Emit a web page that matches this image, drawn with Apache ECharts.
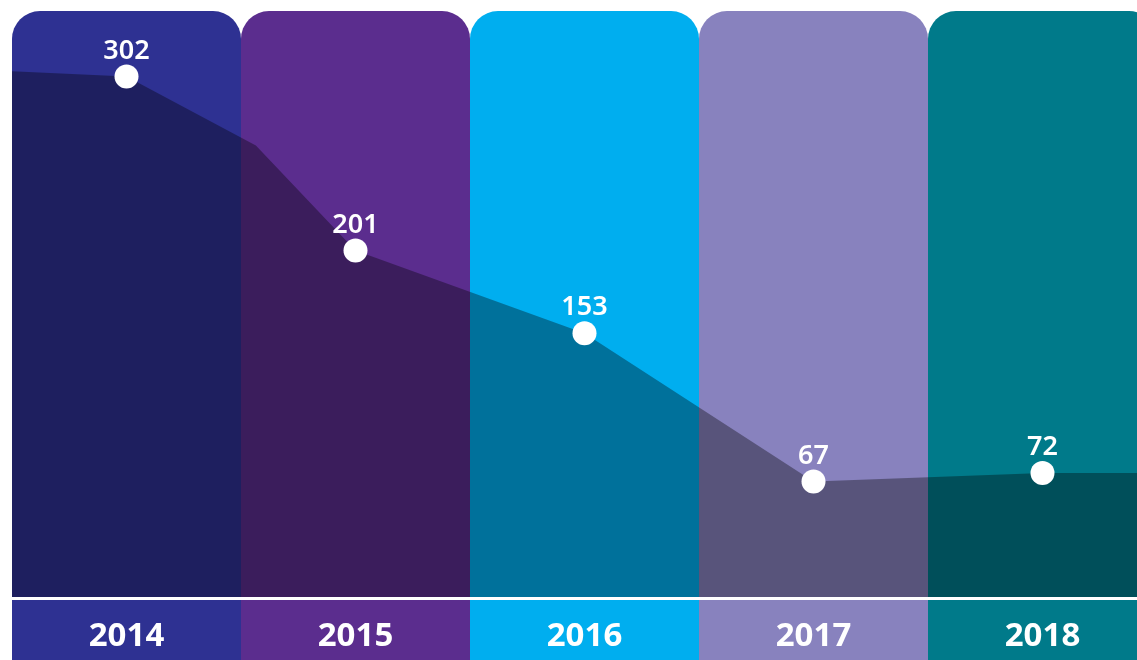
<!DOCTYPE html>
<html>
<head>
<meta charset="utf-8">
<script src="https://cdn.jsdelivr.net/npm/echarts@6/dist/echarts.min.js"></script>
<style>
html, body { margin: 0; padding: 0; background: #fff; }
#chart { width: 1137px; height: 660px; }
</style>
</head>
<body>
<div id="chart"></div>
<script>
var years = ['2014', '2015', '2016', '2017', '2018'];
var counts = [302, 201, 153, 67, 72];
var colColors = ['#2E3192', '#5B2D8E', '#00AEEF', '#8882BE', '#007A8A'];
// shaded band outline, x in category index units
var shadeX = [-0.5, 0, 0.565, 1, 2, 3, 4, 4.5];
var shadeY = [305, 302, 262, 201, 153, 67, 72, 72];
var colMax = 340;

var chart = echarts.init(document.getElementById('chart'));

var font = '"Noto Sans", sans-serif';

var option = {
    backgroundColor: '#fff',
    animation: false,
    grid: [
        { left: 12, top: 11, right: -20, height: 586, outerBoundsMode: 'none', containLabel: false },
        { left: 12, top: 600, right: -20, height: 60, outerBoundsMode: 'none', containLabel: false }
    ],
    xAxis: [
        { type: 'category', gridIndex: 0, data: years, show: false },
        { type: 'value', gridIndex: 0, min: -0.5, max: 4.5, show: false },
        { type: 'category', gridIndex: 1, data: years, show: false }
    ],
    yAxis: [
        { type: 'value', gridIndex: 0, min: 0, max: colMax, show: false },
        { type: 'value', gridIndex: 1, min: 0, max: 1, show: false }
    ],
    series: [
        {
            // coloured columns
            type: 'bar',
            xAxisIndex: 0,
            yAxisIndex: 0,
            barCategoryGap: 0,
            silent: true,
            z: 1,
            data: years.map(function (y, i) {
                return {
                    value: colMax,
                    itemStyle: { color: colColors[i], borderRadius: [28, 28, 0, 0] }
                };
            })
        },
        {
            // dark shade under the line
            type: 'line',
            xAxisIndex: 1,
            yAxisIndex: 0,
            symbol: 'none',
            silent: true,
            z: 2,
            lineStyle: { width: 0 },
            areaStyle: { color: 'rgba(0,0,0,0.35)', opacity: 1 },
            data: shadeX.map(function (x, i) { return [x, shadeY[i]]; })
        },
        {
            type: 'scatter',
            xAxisIndex: 0,
            yAxisIndex: 0,
            symbolSize: 24,
            z: 10,
            itemStyle: { color: '#fff', opacity: 1 },
            label: {
                show: true,
                position: 'top',
                distance: 0,
                color: '#fff',
                fontFamily: font,
                fontSize: 27,
                fontWeight: 600
            },
            data: counts
        },
        {
            // year band at the bottom
            type: 'bar',
            xAxisIndex: 2,
            yAxisIndex: 1,
            barCategoryGap: 0,
            silent: true,
            label: {
                show: true,
                position: 'inside',
                offset: [0, 7],
                color: '#fff',
                fontFamily: font,
                fontSize: 33,
                fontWeight: 'bold',
                formatter: function (p) { return p.name; }
            },
            data: years.map(function (y, i) {
                return { value: 1, itemStyle: { color: colColors[i] } };
            })
        }
    ]
};

chart.setOption(option);
</script>
</body>
</html>
